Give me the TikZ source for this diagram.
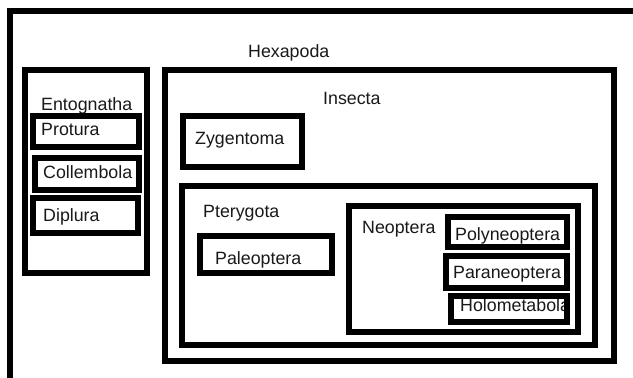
\documentclass[tikz,border=0pt]{standalone}
\usepackage{fontspec}
\setmainfont{Liberation Sans}
\begin{document}
\begin{tikzpicture}[x=1pt,y=-1pt,
  box/.style={draw=black, line width=6pt, rectangle, inner sep=0pt, outer sep=0pt, anchor=north west},
  lbl/.style={anchor=base west, inner sep=0pt, text=black!90, font=\fontsize{17.8}{20}\selectfont}]
  \useasboundingbox (0,0) rectangle (633,378);
  \fill[white] (0,0) rectangle (633,378);
  \begin{scope}
    \clip (0,0) rectangle (633,378);

    % labels
    \node[lbl] (thexa) at (248,57) {Hexapoda};
    \node[lbl] (tento) at (41,110) {Entognatha};
    \node[lbl] (tprot) at (41,135) {Protura};
    \node[lbl] (tcoll) at (43,178) {Collembola};
    \node[lbl] (tdipl) at (43,221) {Diplura};
    \node[lbl] (tinse) at (323,104) {Insecta};
    \node[lbl] (tzyge) at (195,144) {Zygentoma};
    \node[lbl] (tpter) at (203,217) {Pterygota};
    \node[lbl] (tpale) at (215,264) {Paleoptera};
    \node[lbl] (tneop) at (362,233) {Neoptera};
    \node[lbl] (tpoly) at (455,240) {Polyneoptera};
    \node[lbl] (tpara) at (453,278) {Paraneoptera};
    \node[lbl] (tholo) at (460,311) {Holometabola};

    % nested frames
    \node[box, minimum width=690, minimum height=440] (hexa) at (10,11) {};
    \node[box, minimum width=122, minimum height=203] (ento) at (25,70) {};
    \node[box, minimum width=106, minimum height=31] (prot) at (33,116) {};
    \node[box, minimum width=104, minimum height=32] (coll) at (35,158) {};
    \node[box, minimum width=105, minimum height=35] (dipl) at (33,198) {};
    \node[box, minimum width=449, minimum height=291] (inse) at (165,70) {};
    \node[box, minimum width=119, minimum height=51] (zyge) at (183,116) {};
    \node[box, minimum width=413, minimum height=159] (pter) at (182,186) {};
    \node[box, minimum width=132, minimum height=37] (pale) at (200,236) {};
    \node[box, minimum width=229, minimum height=126] (neop) at (349,206) {};
    \node[box, minimum width=119, minimum height=30] (poly) at (448,217) {};
    \node[box, minimum width=121, minimum height=32] (para) at (446,256) {};
    \node[box, minimum width=116, minimum height=26] (holo) at (451,296) {};
  \end{scope}
\end{tikzpicture}
\end{document}
